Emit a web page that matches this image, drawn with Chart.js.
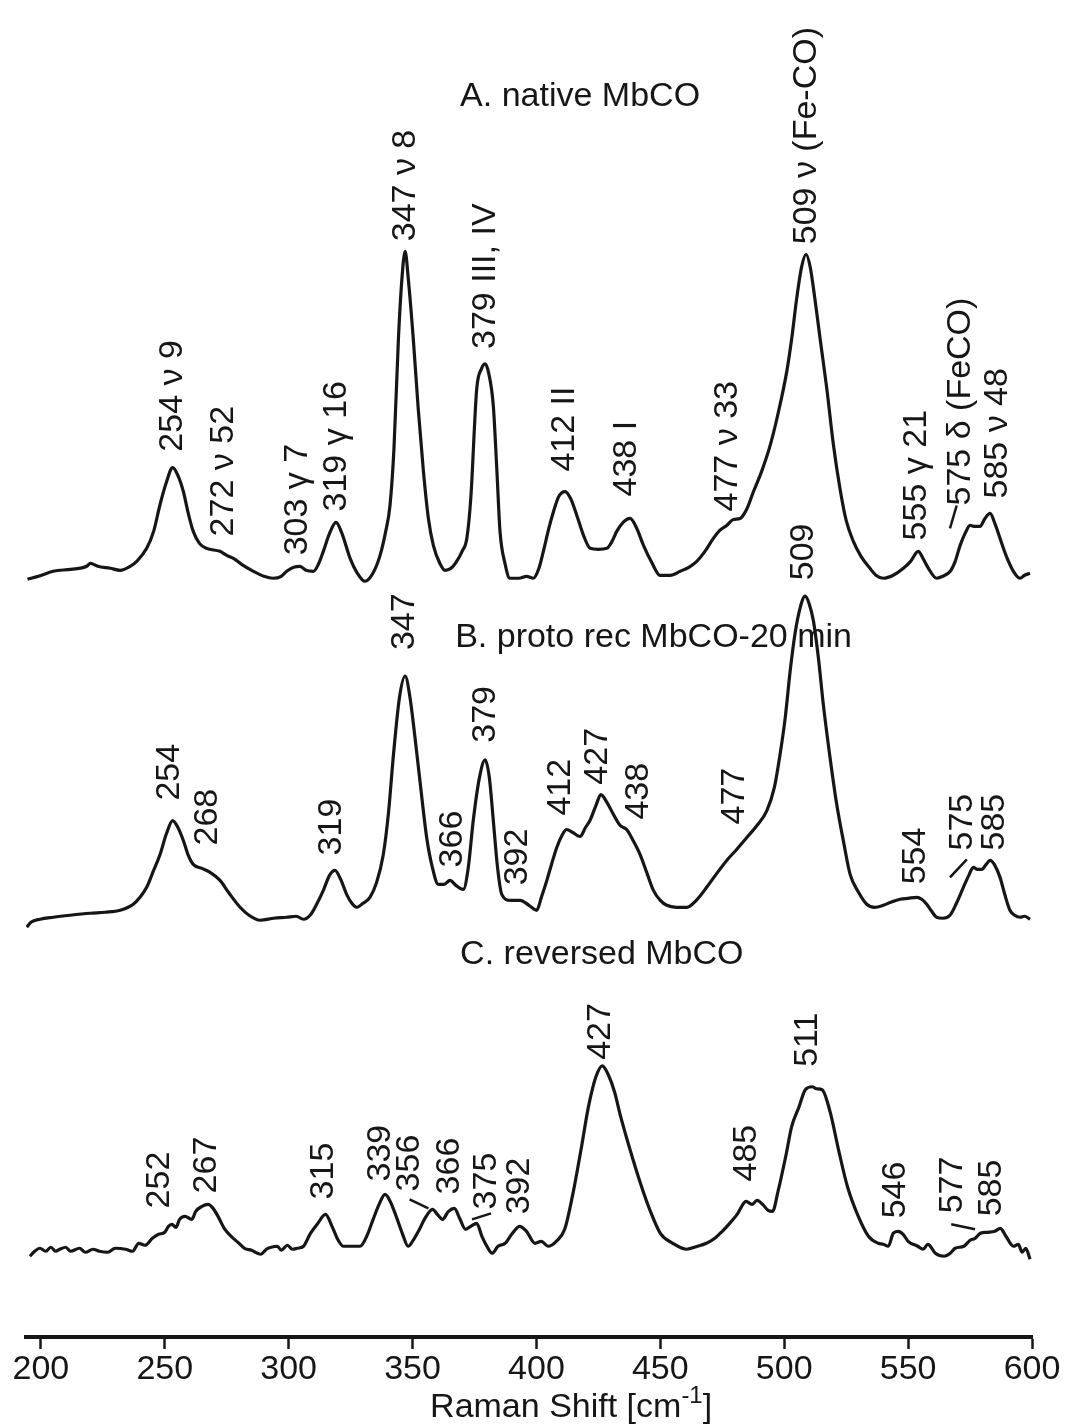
<!DOCTYPE html>
<html>
<head>
<meta charset="utf-8">
<title>Raman spectra of MbCO</title>
<script src="https://cdn.jsdelivr.net/npm/chart.js@4.4.1/dist/chart.umd.min.js"></script>
<style>
  html, body { margin: 0; padding: 0; background: #fff; }
  #wrap { width: 1065px; height: 1427px; }
</style>
</head>
<body>
<div id="wrap"><canvas id="raman" width="1065" height="1427"></canvas></div>
<script>
// x axis
const xMin = 194;
const xMax = 600;
const tickValues = [200, 250, 300, 350, 400, 450, 500, 550, 600];

// A. native MbCO  (wavenumber / relative intensity)
const waveA = [194.6,199,205,212,218.5,220,223,228,232,236,238.7,242.7,245.5,248,250.5,253.2,255.5,257.5,259.5,261.5,264,266.9,272.3,275,277.7,281,285.8,290,293.8,297,299.2,302,304.6,307,310,312,314,316.5,319.1,321.5,324.8,327.5,330.8,334,336.9,339,340.9,342.5,344.3,345.7,347,348.3,350.3,352.3,354.4,356.4,358.4,361,363.1,365.5,367.8,370,371.9,373.5,375.9,377.8,379.3,380.8,382.6,384,385.3,387.3,389.3,393,396,398.8,401,402.8,405,406.9,409,411.6,413.8,416.3,419,421.7,425,428.4,430.5,432.4,435,437.8,440.5,443.2,446.5,449.9,454,458,461.5,464.7,468,471.4,474,476.8,479.5,482.2,485,487.6,491,494.3,497.5,501,503,505,507,508.8,510.5,512.4,514.5,517.2,519.8,522.5,525,527.9,531,534.6,537,540,544,548.1,551,554.1,556,558.2,561.5,564,567,569,571,573,575,577,579,581,583.1,585,587.1,589.5,592.5,595.2,597,599.2];
const intA = [0,3,8,10,13,16,13,11,9,13,18,31,48,74,96,112,103,88,66,48,36,31,28,24,21,15,8,3,1,3,8,12,13,9,8,15,28,46,57,46,21,7,-2,6,24,46,74,131,241,301,329,301,241,171,108,61,34,16,9,11,18,28,41,81,191,211,216,206,174,111,48,16,1,1,3,1,11,28,51,68,83,88,81,64,44,31,30,31,38,48,57,61,51,34,17,4,4,8,12,18,28,41,49,54,60,61,71,88,109,134,166,208,241,281,313,326,313,281,241,191,136,91,59,38,23,11,4,1,4,11,18,28,21,11,1,3,8,18,34,46,54,53,53,61,66,56,41,24,8,1,4,6];

// B. proto rec MbCO-20 min
const waveB = [194.3,196,199.7,205,211.8,220,226,232,237.3,240,242.7,245.5,248.1,250.7,253.2,255.3,257.5,259.5,261.5,265,268.3,272.3,276,280.4,284,288.5,294,299.2,303,306,309,311.3,314,316.5,318.7,321,323.4,325.5,327.5,330,332.8,335.5,338.2,340.3,342.3,344.7,347,349,351,353.3,355.7,358,360.4,362.7,365.1,367.5,370.5,372.5,374.5,377,379.3,381,382.6,384.3,386,389.5,393.4,397,400.1,402,404.2,406.2,408.2,410.3,412.2,414.7,417.6,419.8,421.6,424,426,428.5,431.1,433.8,436.4,439,441.8,444.5,447.2,450,452.6,456.5,460.7,464.5,468.7,472.5,476.8,480.8,484.9,489,493,496,498.3,500.4,502.4,504.4,506.4,508.4,510,511.8,513.8,515.8,518.5,521.2,524,526.6,530,533.3,536.5,540,543,546.8,550,553.5,555.5,557.5,559.5,561.5,564,566.9,569.5,572.3,574.5,576.3,578,579.7,581.5,583.1,585,587.1,589,591.1,593,595.2,597,599.2];
const intB = [-9,-4,-1,1,3,5,6,8,14,21,31,48,64,85,98,91,78,63,54,50,46,38,25,11,3,-2,0,1,2,-1,4,14,28,43,48,39,24,15,11,15,21,36,64,106,164,221,243,221,181,131,81,51,34,34,38,33,29,51,98,141,159,141,98,51,24,18,18,13,8,21,38,55,71,83,89,86,82,91,98,113,124,116,104,93,89,78,64,46,28,18,13,11,11,18,31,44,58,69,81,93,108,131,164,201,248,286,311,323,316,298,261,214,161,114,76,44,26,14,11,13,16,19,20,21,19,14,7,1,0,3,15,31,43,51,49,49,54,58,53,41,24,8,3,1,2,-1];

// C. reversed MbCO
const waveC = [195.6,197.5,199.6,202,204,206,207.6,210,212,215.6,218,221,223.6,227,230,234.2,237,239.5,242,245,247.5,250,251.5,252.9,254.5,256,258.2,260.9,262.5,265,267.5,269.5,271.5,274,276.8,279.5,282.2,285,288.8,291,293,295.5,297,299.5,301.5,303.5,306,308.8,311.5,314.9,317.5,320,322.1,325,328.8,331.5,334.1,336.5,338.9,341,343.4,346,348.2,350.5,352.8,355,358.1,360,362.1,364.5,366.9,369,371.4,373.5,375.9,378,380,382.1,384.5,387.4,390,393.2,396,399.4,402,404.7,408,411.4,414.5,418,421,424,426.6,429,431.5,434,438,442,446,450,455,460.6,465,468.6,472,475,478,481,484.6,487,489,491.3,493.5,495.3,497.5,500.6,503,506,508.5,511.3,513,515.3,518.5,521.9,525.5,529.9,534,537.9,540,542,544,545.9,548,550,553.9,556,558,561,564.5,567,569,572.5,575,577,579.2,582,585,587.2,589.5,592.5,594.5,596,597.5,599.2];
const intC = [-4,1,4,1,5,1,3,5,1,4,0,3,1,0,4,3,1,9,7,14,18,20,26,28,25,33,36,33,41,46,48,44,36,24,16,10,4,2,-2,3,5,6,2,7,3,4,6,19,28,38,26,12,6,6,6,16,33,48,58,51,36,18,6,13,23,34,43,38,33,41,44,34,23,26,29,16,6,-1,6,9,18,26,21,9,11,6,11,23,56,103,146,176,187,178,161,136,101,69,41,19,9,3,6,9,14,21,29,38,51,48,52,48,42,41,61,96,126,146,163,166,164,163,141,103,66,36,16,9,8,6,19,21,18,11,6,3,8,-1,-4,-1,4,6,12,14,19,20,21,24,16,6,8,0,4,-7];

// vertical stacking of the three traces
const traceShift = [760, 420, 85];
const yTop = 1341;

// peak labels: text, wavenumber, intensity where the text starts
const peakTextA = ['254 \u03bd 9', '272 \u03bd 52', '303 \u03b3 7', '319 \u03b3 16', '347 \u03bd 8', '379 III, IV', '412 II', '438 I', '477 \u03bd 33', '509 \u03bd (Fe-CO)', '555 \u03b3 21', '575 \u03b4 (FeCO)', '585 \u03bd 48'];
const peakPosA = [253.2, 273.9, 303.8, 319.2, 347.3, 379.6, 411.5, 436.5, 477.1, 509, 553.6, 571, 586.3];
const peakLiftA = [128, 43, 24, 68, 339, 231, 108, 83, 68, 336, 39, 74, 81];

const peakTextB = ['254', '268', '319', '347', '366', '379', '392', '412', '427', '438', '477', '509', '554', '575', '585'];
const peakPosB = [251.8, 267.2, 317.3, 346.8, 366.1, 379.3, 392.4, 409.7, 424.7, 441.4, 480.1, 507.8, 552.9, 572, 584.9];
const peakLiftB = [118, 73, 63, 269, 51, 176, 33, 103, 134, 99, 94, 339, 34, 68, 68];

const peakTextC = ['252', '267', '315', '339', '356', '366', '375', '392', '427', '485', '511', '546', '577', '585'];
const peakPosC = [248, 267, 314, 337, 349, 365, 380, 393.4, 425.9, 484.9, 509.6, 544.9, 567.9, 583.9];
const peakLiftC = [44, 59, 53, 71, 61, 58, 43, 38, 193, 71, 186, 34, 39, 36];

// short leader ticks: trace index, x0, y0, x1, y1
const leaders = [
  [0, 566.9, 51, 569.6, 74],
  [1, 566.9, 41, 573.7, 59],
  [2, 348.8, 53, 356.4, 44],
  [2, 374, 33, 381.7, 39],
  [2, 567.4, 28, 577.0, 23]
];

const traceTitles = ['A. native MbCO', 'B. proto rec MbCO-20 min', 'C. reversed MbCO'];
const titleX = [369.2, 367.2, 369.2];
const titleLift = [484, 281, 299];

const FONT = '"Liberation Sans", Arial, sans-serif';
const INK = '#161616';

function pts(w, v, shift) {
  return w.map((x, i) => ({ x: x, y: v[i] + shift }));
}

const annotate = {
  id: 'annotate',
  afterDatasetsDraw(chart) {
    const ctx = chart.ctx;
    const xs = chart.scales.x, ys = chart.scales.y;
    ctx.save();
    ctx.fillStyle = INK;
    ctx.strokeStyle = INK;

    // section titles
    ctx.font = '34px ' + FONT;
    ctx.textAlign = 'left';
    ctx.textBaseline = 'middle';
    traceTitles.forEach((t, i) => {
      ctx.fillText(t, xs.getPixelForValue(titleX[i]), ys.getPixelForValue(titleLift[i] + traceShift[i]));
    });

    // rotated peak labels
    const sets = [[peakTextA, peakPosA, peakLiftA], [peakTextB, peakPosB, peakLiftB], [peakTextC, peakPosC, peakLiftC]];
    sets.forEach((s, k) => {
      s[0].forEach((t, i) => {
        ctx.save();
        ctx.translate(xs.getPixelForValue(s[1][i]), ys.getPixelForValue(s[2][i] + traceShift[k]));
        ctx.rotate(-Math.PI / 2);
        ctx.fillText(t, 0, 0);
        ctx.restore();
      });
    });

    // leader ticks
    ctx.lineWidth = 2.5;
    leaders.forEach(l => {
      ctx.beginPath();
      ctx.moveTo(xs.getPixelForValue(l[1]), ys.getPixelForValue(l[2] + traceShift[l[0]]));
      ctx.lineTo(xs.getPixelForValue(l[3]), ys.getPixelForValue(l[4] + traceShift[l[0]]));
      ctx.stroke();
    });

    // axis title with superscript
    const main = 'Raman Shift [cm';
    const sup = '-1';
    const end = ']';
    ctx.font = '34px ' + FONT;
    const w1 = ctx.measureText(main).width;
    const w3 = ctx.measureText(end).width;
    ctx.font = '24px ' + FONT;
    const w2 = ctx.measureText(sup).width;
    const cx = xs.getPixelForValue(414);
    const by = chart.height - 10;
    let x0 = cx - (w1 + w2 + w3) / 2;
    ctx.textAlign = 'left';
    ctx.textBaseline = 'alphabetic';
    ctx.font = '34px ' + FONT;
    ctx.fillText(main, x0, by);
    ctx.font = '24px ' + FONT;
    ctx.fillText(sup, x0 + w1, by - 14);
    ctx.font = '34px ' + FONT;
    ctx.fillText(end, x0 + w1 + w2, by);
    ctx.restore();
  }
};

const lineStyle = { borderColor: INK, borderWidth: 3.2, pointRadius: 0, fill: false, cubicInterpolationMode: 'monotone' };

new Chart(document.getElementById('raman'), {
  type: 'line',
  data: {
    datasets: [
      Object.assign({ label: 'A', data: pts(waveA, intA, traceShift[0]) }, lineStyle),
      Object.assign({ label: 'B', data: pts(waveB, intB, traceShift[1]) }, lineStyle),
      Object.assign({ label: 'C', data: pts(waveC, intC, traceShift[2]) }, lineStyle)
    ]
  },
  options: {
    responsive: false,
    animation: false,
    devicePixelRatio: 1,
    layout: { padding: { left: 26, right: 33, top: 0, bottom: 36 } },
    plugins: { legend: { display: false }, tooltip: { enabled: false } },
    scales: {
      x: {
        type: 'linear',
        min: xMin,
        max: xMax,
        afterBuildTicks: s => { s.ticks = tickValues.map(v => ({ value: v })); },
        grid: { display: true, drawOnChartArea: false, drawTicks: true, tickLength: 12, tickWidth: 2.5, tickColor: INK },
        border: { display: true, color: INK, width: 4 },
        ticks: { color: INK, padding: 4, maxRotation: 0, font: { family: FONT, size: 34, lineHeight: 1 } }
      },
      y: { display: false, min: 0, max: yTop }
    }
  },
  plugins: [annotate]
});
</script>
</body>
</html>
